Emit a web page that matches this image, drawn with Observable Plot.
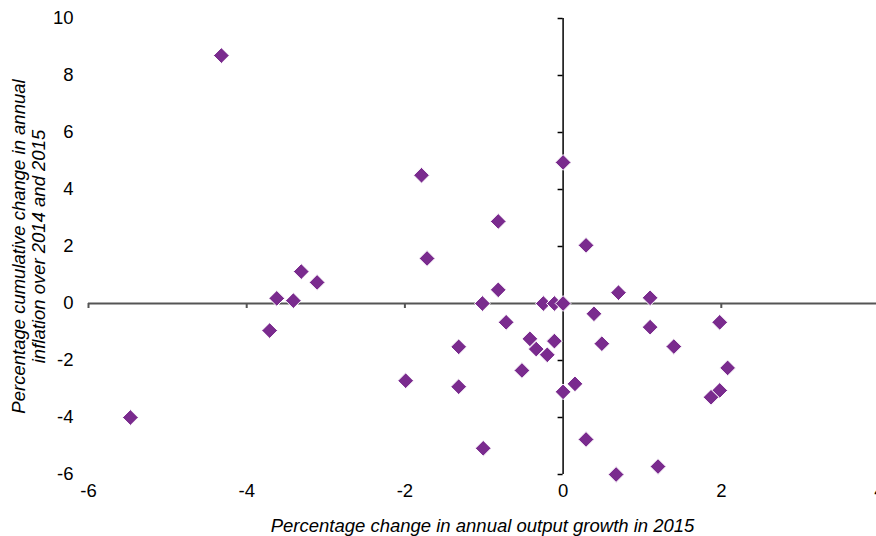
<!DOCTYPE html>
<html><head><meta charset="utf-8">
<script src="https://cdn.jsdelivr.net/npm/d3@7"></script>
<script src="https://cdn.jsdelivr.net/npm/@observablehq/plot@0.6"></script>
<style>
body{margin:0;background:#fff}
#chart{width:876px;height:536px;overflow:hidden}
#chart svg{overflow:hidden}
</style>
</head><body><div id="chart"></div>
<script>
// Percentage change in annual output growth in 2015
const outputGrowth = [-4.32,-5.47,-3.71,-3.62,-3.41,-3.31,-3.11,-1.79,-1.72,-0.82,-0.82,-1.02,-0.25,-0.11,0.0,0.0,-0.72,-1.32,-1.99,-1.32,-1.01,-0.42,-0.34,-0.20,-0.11,-0.52,0.0,0.15,0.29,0.70,1.10,0.39,1.98,1.10,0.49,1.40,2.08,1.98,1.87,0.29,0.67,1.20];
// Percentage cumulative change in annual inflation over 2014 and 2015
const inflation = [8.70,-4.00,-0.95,0.18,0.10,1.12,0.74,4.50,1.58,2.88,0.48,0.0,0.0,0.0,0.0,4.95,-0.66,-1.52,-2.71,-2.92,-5.08,-1.24,-1.60,-1.80,-1.32,-2.35,-3.10,-2.82,2.04,0.38,0.20,-0.36,-0.66,-0.83,-1.41,-1.51,-2.26,-3.05,-3.29,-4.77,-6.00,-5.72];
const xTicks = [-6,-4,-2,0,2,4];
const yTicks = [-6,-4,-2,0,2,4,6,8,10];
const xLabel = "Percentage change in annual output growth in 2015";
const yLabel = "Percentage cumulative change in annual\ninflation over 2014 and 2015";

const points = outputGrowth.map((x, i) => ({x, y: inflation[i]}));
const fmt = d => String(d);

const chart = Plot.plot({
  width: 876, height: 536,
  marginLeft: 88, marginRight: 0, marginTop: 18, marginBottom: 62,
  style: {fontFamily: "'Liberation Sans', Arial, sans-serif", fontSize: "18.5px", color: "#000", background: "#fff", overflow: "hidden"},
  x: {domain: [-6, 4], range: [88, 879]},
  y: {domain: [-6, 10]},
  marks: [
    Plot.axisX(xTicks, {anchor: "bottom", tickSize: 0, tickPadding: 9, label: null, fill: "#000", fontSize: 18.5, tickFormat: fmt}),
    Plot.axisY(yTicks, {anchor: "left", tickSize: 0, tickPadding: 15, label: null, fill: "#000", fontSize: 18.5, tickFormat: fmt}),
    Plot.ruleY([0], {stroke: "#555", strokeWidth: 2}),
    Plot.ruleX(xTicks.filter(d => d !== 0), {x: d => d, y1: 0, y2: 0, insetBottom: -5, stroke: "#555", strokeWidth: 2}),
    Plot.ruleX([0], {x: d => d, y1: -6, y2: 10, stroke: "#000", strokeWidth: 1.5}),
    Plot.ruleY(yTicks, {y: d => d, x1: 0, x2: 0, insetLeft: -5, stroke: "#000", strokeWidth: 1.5}),
    Plot.dot(points, {x: "x", y: "y", symbol: "diamond2", r: 7.1, fill: "#7a2b8e", stroke: "#fff", strokeWidth: 1, fillOpacity: 1}),
    Plot.text([yLabel], {text: d => d, frameAnchor: "left", dx: -60, rotate: -90, textAnchor: "middle", lineAnchor: "middle", lineHeight: 1.08, fontStyle: "italic", fontSize: 18.5, fill: "#000"}),
    Plot.text([xLabel], {text: d => d, frameAnchor: "bottom", dy: 57, textAnchor: "middle", lineAnchor: "bottom", fontStyle: "italic", fontSize: 18.5, fill: "#000"})
  ]
});
document.getElementById("chart").appendChild(chart);
</script>
</body></html>
